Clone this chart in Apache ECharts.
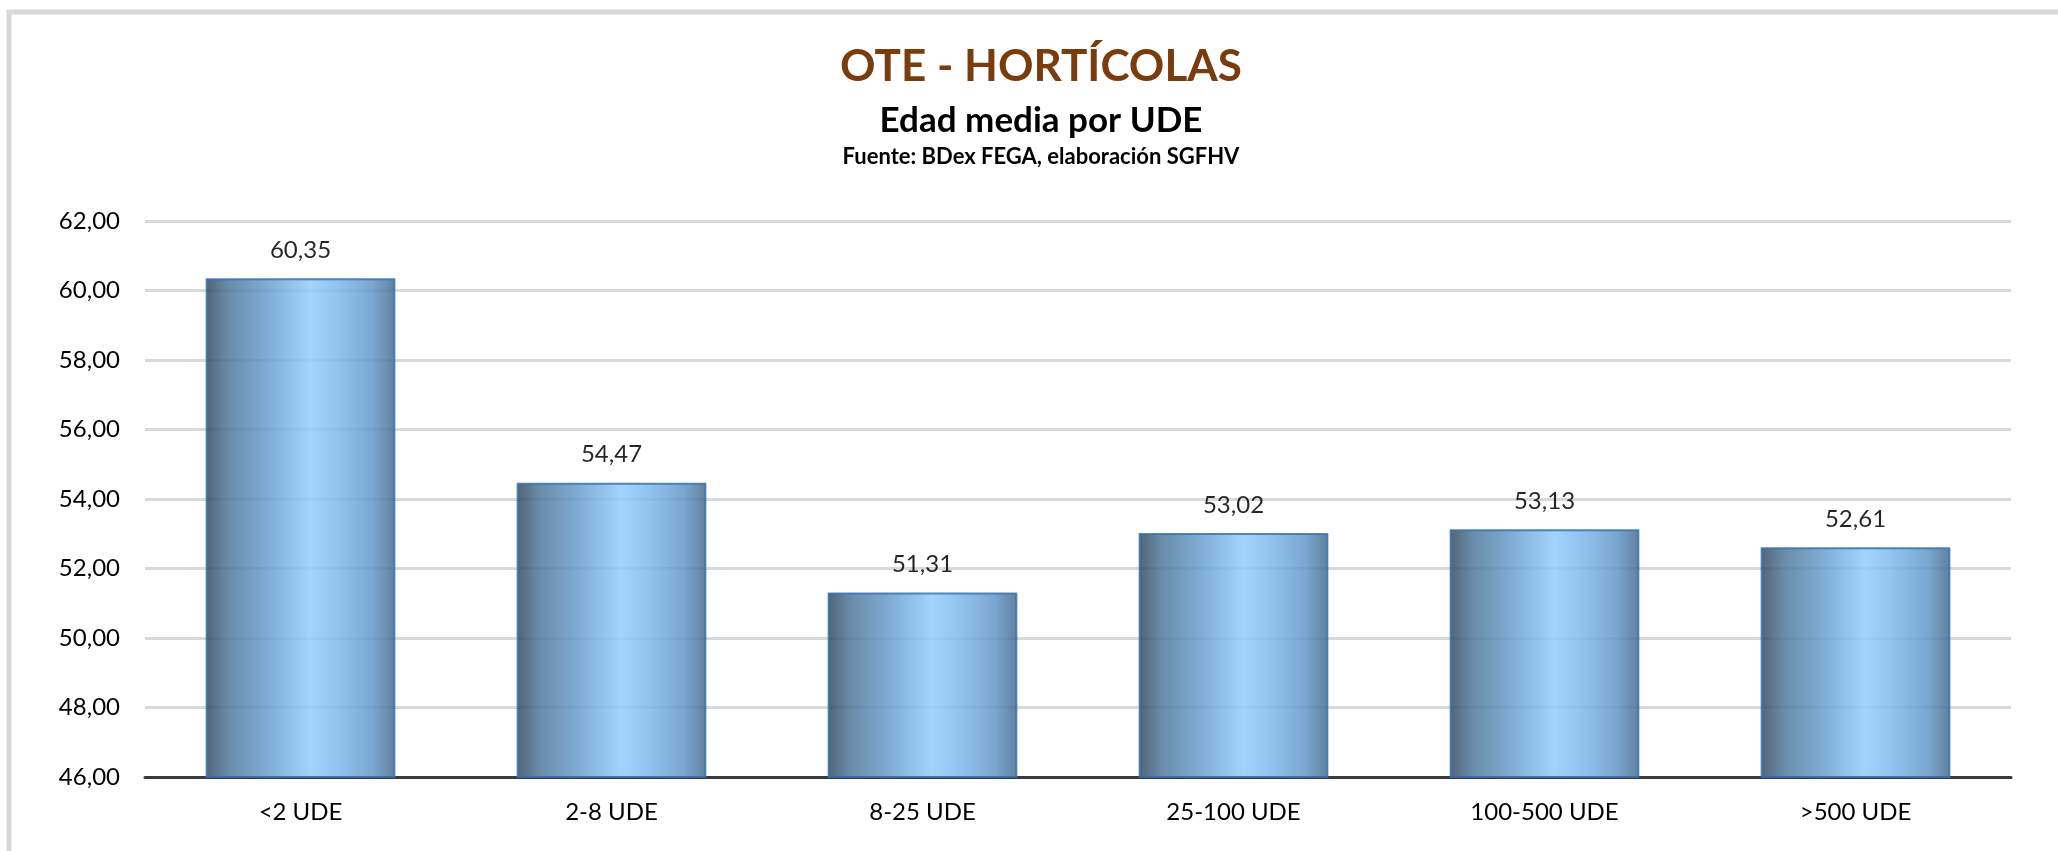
<!DOCTYPE html>
<html>
<head>
<meta charset="utf-8">
<title>OTE - HORTÍCOLAS</title>
<script src="https://cdn.jsdelivr.net/npm/echarts@6/dist/echarts.min.js"></script>
<style>
    html, body { margin: 0; padding: 0; background: #fff; }
    #chart { width: 2058px; height: 851px; }
</style>
</head>
<body>
<div id="chart"></div>
<script>
// datos
var categorias = ['<2 UDE', '2-8 UDE', '8-25 UDE', '25-100 UDE', '100-500 UDE', '>500 UDE'];
var edadMedia = [60.35, 54.47, 51.31, 53.02, 53.13, 52.61];

var titulo = 'OTE - HORTÍCOLAS';
var subtitulo = 'Edad media por UDE';
var fuente = 'Fuente: BDex FEGA, elaboración SGFHV';

var fontName = 'Lato';

// formato español: coma decimal
var fmt = function(v) {
    return v.toFixed(2).replace('.', ',');
};

var myChart = echarts.init(document.getElementById('chart'));

var barColor = new echarts.graphic.LinearGradient(0, 0, 1, 0, [
    {offset: 0, color: '#33495f'},
    {offset: 0.12, color: '#4f7799'},
    {offset: 0.35, color: '#6ca2d2'},
    {offset: 0.55, color: '#92ccfc'},
    {offset: 0.68, color: '#80bbef'},
    {offset: 0.88, color: '#6397c8'},
    {offset: 1, color: '#456a8c'}
]);

var option = {
    backgroundColor: '#fff',
    animation: false,
    textStyle: {
        fontFamily: fontName
    },
    graphic: [
        {
            // marco gris del grafico (cortado a derecha y abajo)
            type: 'rect',
            shape: {x: 9, y: 12, width: 2200, height: 1000},
            style: {fill: 'none', stroke: '#d9d9d9', lineWidth: 5},
            silent: true
        },
        {
            type: 'text',
            style: {
                text: titulo,
                x: 1041,
                y: 67,
                textAlign: 'center',
                textVerticalAlign: 'middle',
                fill: '#7a3c0c',
                font: 'bold 44px ' + fontName
            }
        },
        {
            type: 'text',
            style: {
                text: subtitulo,
                x: 1041,
                y: 121,
                textAlign: 'center',
                textVerticalAlign: 'middle',
                fill: '#000',
                font: 'bold 35px ' + fontName
            }
        },
        {
            type: 'text',
            style: {
                text: fuente,
                x: 1041,
                y: 157,
                textAlign: 'center',
                textVerticalAlign: 'middle',
                fill: '#000',
                font: 'bold 22px ' + fontName
            }
        }
    ],
    grid: {
        left: 145,
        right: 47,
        top: 221,
        bottom: 74
    },
    xAxis: {
        type: 'category',
        data: categorias,
        axisLine: {
            lineStyle: {color: '#3a3a3a', width: 3}
        },
        axisTick: {show: false},
        axisLabel: {
            color: '#000',
            fontSize: 24,
            margin: 23
        }
    },
    yAxis: {
        type: 'value',
        min: 46,
        max: 62,
        interval: 2,
        axisLine: {show: false},
        axisTick: {show: false},
        splitLine: {
            lineStyle: {color: '#d9d9d9', width: 3}
        },
        axisLabel: {
            color: '#000',
            fontSize: 24,
            margin: 25,
            formatter: fmt
        }
    },
    series: [{
        type: 'bar',
        data: edadMedia,
        barWidth: '61%',
        itemStyle: {
            color: barColor,
            borderColor: '#3672b0',
            borderWidth: 2,
            opacity: 0.85
        },
        label: {
            show: true,
            position: 'top',
            distance: 16,
            color: '#000',
            fontSize: 24,
            formatter: function(p) {
                return fmt(p.value);
            }
        }
    }]
};

myChart.setOption(option);
</script>
</body>
</html>
